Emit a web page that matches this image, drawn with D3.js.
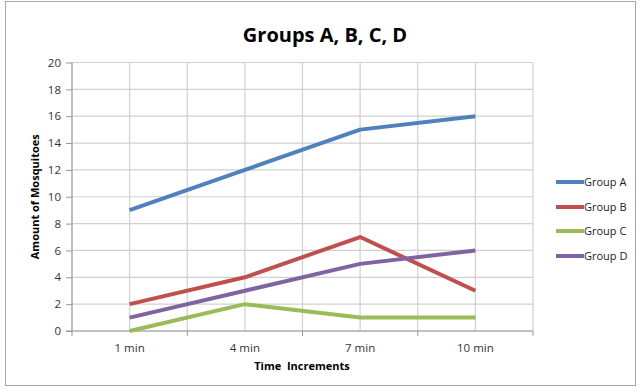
<!DOCTYPE html>
<html><head><meta charset="utf-8">
<script src="https://cdn.jsdelivr.net/npm/d3@7"></script>
<style>body{margin:0;background:#fff;} text{font-family:"Open Sans","Noto Sans",sans-serif;}</style>
</head><body>
<svg id="c" width="641" height="389"></svg>
<script>
const categories = ["1 min","4 min","7 min","10 min"];
const groupA = [9,12,15,16];
const groupB = [2,4,7,3];
const groupC = [0,2,1,1];
const groupD = [1,3,5,6];
const seriesNames = ["Group A","Group B","Group C","Group D"];
const yTicks = [0,2,4,6,8,10,12,14,16,18,20];
const colors = ["#4F81BD","#C0504D","#9BBB59","#8064A2"];
const series = [groupA,groupB,groupC,groupD];

const svg = d3.select("#c");
svg.append("rect").attr("x",5.5).attr("y",1.5).attr("width",630).attr("height",384)
  .attr("fill","#fff").attr("stroke","#a6a6a6");

const L=72, R=533, T=62.5, B=331;
const x = d3.scaleBand().domain(categories).range([L,R]);
const y = d3.scaleLinear().domain([0,20]).range([B,T]);

svg.append("g").selectAll("line").data(yTicks).join("line")
  .attr("x1",L).attr("x2",R).attr("y1",d=>y(d)).attr("y2",d=>y(d))
  .attr("stroke","#d0d0d0").attr("stroke-width",1.2);
const bw = x.bandwidth();
const vx = [];
categories.forEach(c=>{vx.push(x(c)); vx.push(x(c)+bw/2);});
vx.push(R);
svg.append("g").selectAll("line").data(vx).join("line")
  .attr("x1",d=>d).attr("x2",d=>d).attr("y1",T).attr("y2",B)
  .attr("stroke","#d0d0d0").attr("stroke-width",1.2);

const yAxis = d3.axisLeft(y).tickValues(yTicks).tickSize(6).tickPadding(5);
const gy = svg.append("g").attr("transform",`translate(${L},0)`).call(yAxis);
gy.select(".domain").attr("stroke","#999").attr("d",`M0,${T}V${B}`);
gy.selectAll(".tick line").attr("stroke","#999");
gy.selectAll("text").attr("font-size",11.5).attr("fill","#333");

const xAxis = d3.axisBottom(x).tickSize(0).tickPadding(13);
const gx = svg.append("g").attr("transform",`translate(0,${B})`).call(xAxis);
gx.select(".domain").attr("stroke","#999").attr("d",`M${L-6},0H${R}`);
gx.selectAll("text").attr("font-size",11.5).attr("fill","#333");
const bounds = categories.map(c=>x(c)).concat([R]);
svg.append("g").selectAll("line").data(bounds).join("line")
  .attr("x1",d=>d).attr("x2",d=>d).attr("y1",B).attr("y2",B+5).attr("stroke","#999");

const line = d3.line().x((d,i)=>x(categories[i])+bw/2).y(d=>y(d));
series.forEach((s,i)=>{
  svg.append("path").datum(s).attr("d",line).attr("fill","none")
    .attr("stroke",colors[i]).attr("stroke-width",4).attr("stroke-linejoin","round");
});

svg.append("text").attr("x",325).attr("y",42).attr("text-anchor","middle")
  .attr("font-size",20).attr("font-weight","bold").attr("fill","#000").text("Groups A, B, C, D");
svg.append("text").attr("transform",`translate(39,${(T+B)/2}) rotate(-90)`).attr("text-anchor","middle")
  .attr("font-size",11).attr("font-weight","bold").attr("fill","#000").text("Amount of Mosquitoes");
svg.append("text").attr("x",302).attr("y",370).attr("text-anchor","middle")
  .attr("font-size",11).attr("font-weight","bold").attr("fill","#000").style("white-space","pre").text("Time  Increments");

const legY = [182,207,231,256];
seriesNames.forEach((n,i)=>{
  svg.append("line").attr("x1",556).attr("x2",584).attr("y1",legY[i]).attr("y2",legY[i])
    .attr("stroke",colors[i]).attr("stroke-width",4);
  svg.append("text").attr("x",584).attr("y",legY[i]+4).attr("font-size",11).attr("fill","#222").text(n);
});
</script>
</body></html>
